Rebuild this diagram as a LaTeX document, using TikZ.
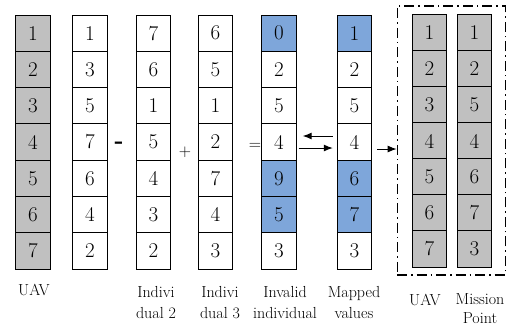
\documentclass[tikz,border=0pt]{standalone}
\usetikzlibrary{arrows.meta}
\definecolor{cellgray}{RGB}{192,192,192}
\definecolor{cellblue}{RGB}{126,166,218}
\tikzset{
  cell/.style={draw=black, line width=0.9pt, minimum width=34.5pt, minimum height=36.3pt,
    inner sep=0pt, font=\rmfamily\fontsize{21}{24}\selectfont},
  graycell/.style={cell, fill=cellgray},
  lbl/.style={align=center, inner sep=0pt, font=\rmfamily\fontsize{16}{21}\selectfont},
  op/.style={inner sep=0pt, font=\rmfamily\fontsize{17}{20}\selectfont},
  arr/.style={line width=1pt, -{Latex[length=9pt,width=7pt]}},
  dashbox/.style={draw=black, line width=1.1pt, dash pattern=on 10pt off 4pt on 1.5pt off 4pt,
    minimum width=108pt, minimum height=269pt, inner sep=0pt}
}
\begin{document}
\begin{tikzpicture}[x=1pt,y=-1pt]
\useasboundingbox (0,0) rectangle (507,326);
% column 1: UAV
\foreach \v [count=\i] in {1,2,3,4,5,6,7}
  \node[graycell] (aR\i) at (33,{15+36.29*(\i-0.5)}) {\v};
% column 2
\foreach \v [count=\i] in {1,3,5,7,6,4,2}
  \node[cell] (bR\i) at (90,{15+36.29*(\i-0.5)}) {\v};
% column 3: Individual 2
\foreach \v [count=\i] in {7,6,1,5,4,3,2}
  \node[cell] (cR\i) at (153.5,{15+36.29*(\i-0.5)}) {\v};
% column 4: Individual 3
\foreach \v [count=\i] in {6,5,1,2,7,4,3}
  \node[cell] (dR\i) at (215.5,{15+36.29*(\i-0.5)}) {\v};
% column 5: Invalid individual
\foreach \v/\f [count=\i] in {0/cellblue,2/white,5/white,4/white,9/cellblue,5/cellblue,3/white}
  \node[cell, fill=\f] (eR\i) at (279,{15+36.29*(\i-0.5)}) {\v};
% column 6: Mapped values
\foreach \v/\f [count=\i] in {1/cellblue,2/white,5/white,4/white,6/cellblue,7/cellblue,3/white}
  \node[cell, fill=\f] (fR\i) at (354.5,{15+36.29*(\i-0.5)}) {\v};
% column 7: UAV
\foreach \v [count=\i] in {1,2,3,4,5,6,7}
  \node[graycell] (gR\i) at (429.5,{15+36*(\i-0.5)}) {\v};
% column 8: Mission point
\foreach \v [count=\i] in {1,2,5,4,6,7,3}
  \node[graycell] (hR\i) at (474.5,{15+36*(\i-0.5)}) {\v};
% dashed box
\node[dashbox] (box) at (451.2,140.5) {};
% operators
\node[op] (minus) at (119,145) {\bfseries\fontsize{24}{24}\selectfont -};
\node[op] (plus) at (185,152) {+};
\node[op] (eq) at (255,146) {=};
% arrows
\draw[arr] ([xshift=-4pt,yshift=6pt]fR4.west) -- ([xshift=6pt,yshift=6pt]eR4.east);
\draw[arr] ([xshift=2pt,yshift=-6pt]eR4.east) -- ([xshift=-4pt,yshift=-6pt]fR4.west);
\coordinate (a3) at ([xshift=5pt,yshift=-7pt]fR4.east);
\draw[arr] (a3) -- (a3 -| box.west);
% labels
\node[lbl] (l1) at (34,290) {UAV};
\node[lbl] (l2) at (156,302.5) {Indivi\\dual 2};
\node[lbl] (l3) at (220,302.5) {Indivi\\dual 3};
\node[lbl] (l4) at (285,302.5) {Invalid\\individual};
\node[lbl] (l5) at (354,302.5) {Mapped\\values};
\node[lbl] (l6) at (425,300) {UAV};
\node[lbl, font=\rmfamily\fontsize{16}{19}\selectfont] (l7) at (480,308.5) {Mission\\Point};
\end{tikzpicture}
\end{document}
